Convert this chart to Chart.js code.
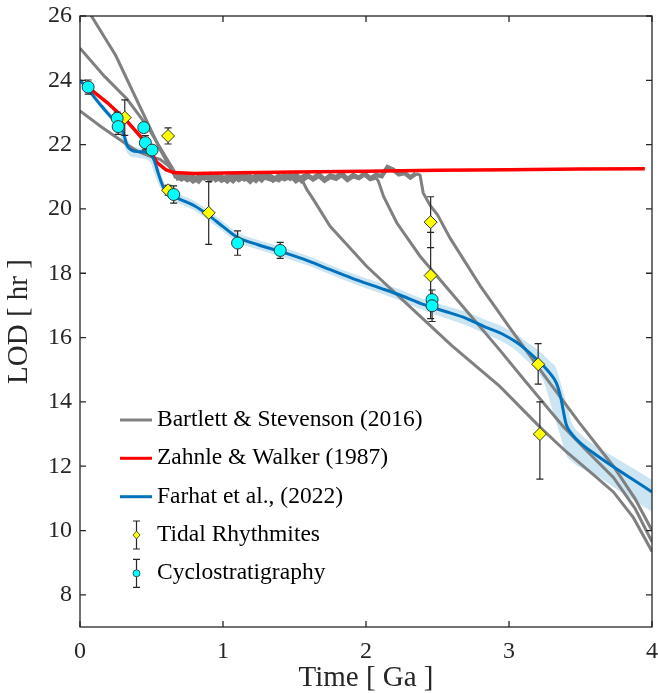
<!DOCTYPE html>
<html>
<head>
<meta charset="utf-8">
<script src="https://cdn.jsdelivr.net/npm/chart.js@4"></script>
<style>
  html, body { margin: 0; padding: 0; background: #fff; }
  #wrap { width: 658px; height: 693px; }
</style>
</head>
<body>
<div id="wrap"><canvas id="lodChart"></canvas></div>
<script>
// tick marks
const xTicks = [0, 1, 2, 3, 4];
const yTicks = [8, 10, 12, 14, 16, 18, 20, 22, 24, 26];

const seriesNames = ['Bartlett & Stevenson (2016)', 'Zahnle & Walker (1987)', 'Farhat et al., (2022)', 'Tidal Rhythmites', 'Cyclostratigraphy'];

// Bartlett & Stevenson: three model runs, each = early decline, noisy plateau, late decline
const plateauX = [0.71, 0.75, 0.79, 0.83, 0.87, 0.91, 0.95, 0.99, 1.03, 1.07, 1.11, 1.15, 1.19, 1.23, 1.27, 1.31, 1.35, 1.39, 1.43, 1.47, 1.51,
  1.55, 1.59, 1.63, 1.67, 1.71, 1.75, 1.79, 1.83, 1.87, 1.91, 1.95, 1.99, 2.03, 2.07, 2.11, 2.15, 2.19, 2.23, 2.27, 2.31, 2.35];

const grayAInitX = [0, 0.08, 0.25, 0.45, 0.56, 0.63, 0.67];
const grayAInitY = [26.7, 26.0, 24.77, 22.89, 21.85, 21.28, 21.02];
const grayAPlateau = [20.92, 21.06, 20.88, 21.02, 20.95, 21.08, 20.9, 21.0, 20.86, 21.05, 20.97, 21.1, 20.92, 21.03, 20.89, 21.07, 20.98, 20.9, 21.06, 20.94, 21.09,
  20.87, 21.01, 20.96, 21.08, 20.91, 21.04, 20.99, 21.11, 20.93, 21.05, 20.97, 21.1, 20.95, 21.06, 21.02, 21.3, 21.22, 21.08, 21.12, 20.98, 21.1];
const grayAExitX = [2.378, 2.4, 2.45, 2.5, 2.587, 2.8, 3.006, 3.25, 3.494, 3.73, 3.88, 4.0];
const grayAExitY = [21.05, 20.5, 20.1, 19.82, 19.1, 17.6, 16.3, 14.8, 13.34, 12.0, 11.0, 10.0];

const grayBInitX = [0, 0.17, 0.33, 0.47, 0.61, 0.645, 0.67];
const grayBInitY = [25.0, 24.13, 23.41, 22.58, 21.54, 21.28, 21.08];
const grayBPlateau = [21.04, 20.9, 21.0, 20.86, 21.07, 20.93, 21.02, 20.88, 20.98, 21.06, 20.9, 21.01, 20.85, 21.04, 20.95, 21.08, 20.89, 21.0,
  20.93, 21.05, 20.87, 20.99, 21.07, 20.92, 21.03, 20.88, 21.0, 20.94, 21.06, 20.9, 21.02, 20.96, 21.08, 20.93, 20.98];
const grayBExitX = [2.087, 2.122, 2.215, 2.378, 2.6, 2.936, 3.1, 3.38, 3.55, 3.73, 3.88, 4.0];
const grayBExitY = [20.86, 20.4, 19.57, 18.53, 17.37, 15.61, 14.72, 13.23, 12.45, 11.65, 10.7, 9.65];

const grayCInitX = [0, 0.15, 0.31, 0.4, 0.5, 0.56, 0.63, 0.67];
const grayCInitY = [23.05, 22.55, 22.06, 21.8, 21.62, 21.54, 21.3, 20.95];
const grayCPlateau = [20.97, 21.05, 20.86, 20.95, 21.03, 20.89, 21.07, 20.94, 21.0, 20.87, 21.05, 20.92, 21.02, 20.88, 21.06, 20.95, 20.9, 21.04, 20.93, 21.0, 20.96];
const grayCExitX = [1.552, 1.587, 1.633, 1.749, 2.006, 2.331, 2.6, 2.936, 3.22, 3.4, 3.6, 3.73, 3.87, 4.0];
const grayCExitY = [20.91, 20.6, 20.29, 19.46, 18.21, 16.86, 15.75, 14.48, 13.2, 12.45, 11.7, 11.2, 10.4, 9.35];

// Zahnle & Walker
const zahnleX = [0.05, 0.19, 0.318, 0.422, 0.539, 0.6, 0.655, 0.8, 1.0, 1.5, 2.0, 2.5, 3.0, 3.5, 3.95];
const zahnleY = [23.8, 23.31, 22.78, 22.26, 21.44, 21.22, 21.13, 21.1, 21.12, 21.15, 21.17, 21.2, 21.22, 21.24, 21.25];

// Farhat et al. median and uncertainty envelope
const farhatX = [0, 0.05, 0.15, 0.26, 0.3, 0.33, 0.36, 0.42, 0.49, 0.52, 0.55, 0.585, 0.63, 0.7, 0.8, 0.9, 1.0, 1.1, 1.25, 1.4, 1.6, 1.75,
  1.9, 2.1, 2.25, 2.4, 2.55, 2.7, 2.85, 2.95, 3.05, 3.12, 3.2, 3.25, 3.29, 3.33, 3.36, 3.4, 3.44, 3.5, 3.6, 3.73, 3.85, 4.0];
const farhatY = [24.0, 23.75, 23.2, 22.63, 22.4, 21.97, 21.83, 21.78, 21.73, 21.5, 21.07, 20.66, 20.45, 20.3, 20.1, 19.8, 19.45, 19.12, 18.88, 18.68, 18.38, 18.11,
  17.85, 17.54, 17.3, 17.03, 16.82, 16.6, 16.3, 16.12, 15.86, 15.62, 15.3, 15.08, 14.87, 14.6, 14.17, 13.3, 13.0, 12.72, 12.38, 11.98, 11.63, 11.2];
const farhatHi = [24.08, 23.84, 23.3, 22.74, 22.52, 22.2, 21.95, 21.9, 21.85, 21.72, 21.35, 20.85, 20.6, 20.45, 20.25, 19.95, 19.6, 19.27, 19.03, 18.83, 18.53, 18.26,
  18.0, 17.7, 17.47, 17.2, 17.0, 16.8, 16.52, 16.35, 16.1, 15.88, 15.62, 15.42, 15.25, 15.05, 14.6, 14.0, 13.35, 13.0, 12.65, 12.3, 11.98, 11.57];
const farhatLo = [23.92, 23.66, 23.1, 22.5, 22.05, 21.75, 21.62, 21.58, 21.45, 21.1, 20.75, 20.5, 20.3, 20.15, 19.95, 19.64, 19.3, 18.97, 18.73, 18.53, 18.23, 17.96,
  17.7, 17.38, 17.13, 16.85, 16.62, 16.38, 16.08, 15.88, 15.6, 15.3, 14.95, 14.55, 13.96, 13.37, 12.93, 12.35, 12.15, 11.95, 11.75, 11.35, 11.0, 10.58];

// data points with error bars
const tidalX = [0.313, 0.616, 0.616, 0.9, 2.452, 2.452, 3.204, 3.216];
const tidalY = [22.84, 22.27, 20.58, 19.88, 19.59, 17.93, 15.17, 13.0];
const tidalErrUp = [0.55, 0.25, 0.15, 0.97, 0.79, 1.34, 0.64, 1.0];
const tidalErrDown = [0.55, 0.25, 0.15, 0.98, 0.79, 1.34, 0.62, 1.4];

const cycloX = [0.057, 0.26, 0.267, 0.446, 0.457, 0.504, 0.655, 1.102, 1.4, 2.462, 2.462];
const cycloY = [23.79, 22.82, 22.56, 22.53, 22.06, 21.83, 20.45, 18.94, 18.71, 17.18, 16.99];
const cycloErr = [0.22, 0.19, 0.24, 0.08, 0.22, 0.12, 0.27, 0.38, 0.25, 0.3, 0.49];

const grayColor = '#808080';
const redColor = '#FF0000';
const blueColor = '#0072BD';
const bandColor = '#CBE5F3';
const axisColor = '#262626';
const fontFamily = '"Liberation Serif", "Times New Roman", serif';

const pts = (xs, ys) => xs.map((x, i) => ({ x: x, y: ys[i] }));
const grayLine = (ix, iy, plateau, ex, ey) =>
  pts(ix, iy).concat(pts(plateauX.slice(0, plateau.length), plateau), pts(ex, ey));

const lineStyle = (color, width, order) => ({
  showLine: true, borderColor: color, backgroundColor: color, borderWidth: width,
  pointRadius: 0, pointHoverRadius: 0, tension: 0, fill: false, order: order
});

// the noisy plateau part of a gray run is drawn a bit heavier
const plateauSegment = plateau => {
  const endX = plateauX[plateau.length - 1];
  return { borderWidth: c => (c.p0.parsed.x >= 0.66 && c.p1.parsed.x <= endX) ? 4.5 : 3 };
};

// error bars are drawn just before their marker dataset
const errorBars = {
  id: 'errorBars',
  beforeDatasetDraw(chart, args) {
    const ds = chart.data.datasets[args.index];
    if (!ds.errUp) return;
    const { ctx, scales: { x, y } } = chart;
    ctx.save();
    ctx.strokeStyle = axisColor;
    ctx.lineWidth = 1.2;
    ctx.beginPath();
    ds.data.forEach((p, i) => {
      const px = x.getPixelForValue(p.x);
      const top = y.getPixelForValue(p.y + ds.errUp[i]);
      const bot = y.getPixelForValue(p.y - ds.errDown[i]);
      ctx.moveTo(px, top); ctx.lineTo(px, bot);
      ctx.moveTo(px - 3.5, top); ctx.lineTo(px + 3.5, top);
      ctx.moveTo(px - 3.5, bot); ctx.lineTo(px + 3.5, bot);
    });
    ctx.stroke();
    ctx.restore();
  }
};

// box around the axes with inward ticks on all four sides
const frame = {
  id: 'frame',
  afterDatasetsDraw(chart) {
    const { ctx, chartArea: a, scales: { x, y } } = chart;
    ctx.save();
    ctx.strokeStyle = axisColor;
    ctx.lineWidth = 1.3;
    ctx.strokeRect(a.left, a.top, a.right - a.left, a.bottom - a.top);
    ctx.beginPath();
    xTicks.forEach(v => {
      const px = x.getPixelForValue(v);
      ctx.moveTo(px, a.bottom); ctx.lineTo(px, a.bottom - 6);
      ctx.moveTo(px, a.top); ctx.lineTo(px, a.top + 6);
    });
    yTicks.forEach(v => {
      const py = y.getPixelForValue(v);
      ctx.moveTo(a.left, py); ctx.lineTo(a.left + 6, py);
      ctx.moveTo(a.right, py); ctx.lineTo(a.right - 6, py);
    });
    ctx.stroke();
    ctx.restore();
  }
};

// axis titles and legend
const annotations = {
  id: 'annotations',
  afterDraw(chart) {
    const { ctx, chartArea: a } = chart;
    ctx.save();
    ctx.fillStyle = axisColor;
    ctx.font = '29px ' + fontFamily;
    ctx.textAlign = 'center';
    ctx.textBaseline = 'middle';
    ctx.fillText('Time [ Ga ]', (a.left + a.right) / 2, 678);
    ctx.save();
    ctx.translate(19, (a.top + a.bottom) / 2);
    ctx.rotate(-Math.PI / 2);
    ctx.fillText('LOD [ hr ]', 0, 0);
    ctx.restore();

    const rowY = [420, 458.3, 496.7, 535, 573.3];
    const lineColors = [grayColor, redColor, blueColor];
    ctx.font = '23.5px ' + fontFamily;
    ctx.textAlign = 'left';
    ctx.fillStyle = '#000';
    seriesNames.forEach((name, i) => {
      const yy = rowY[i];
      if (i < 3) {
        ctx.strokeStyle = lineColors[i];
        ctx.lineWidth = 3;
        ctx.beginPath();
        ctx.moveTo(120, yy); ctx.lineTo(152, yy);
        ctx.stroke();
      } else {
        ctx.strokeStyle = axisColor;
        ctx.lineWidth = 1.2;
        ctx.beginPath();
        ctx.moveTo(136.5, yy - 14); ctx.lineTo(136.5, yy + 14);
        ctx.moveTo(133, yy - 14); ctx.lineTo(140, yy - 14);
        ctx.moveTo(133, yy + 14); ctx.lineTo(140, yy + 14);
        ctx.stroke();
        ctx.fillStyle = i === 3 ? '#FFFF00' : '#00FFFF';
        ctx.strokeStyle = '#333';
        ctx.lineWidth = 0.8;
        ctx.beginPath();
        if (i === 3) {
          ctx.moveTo(136.5, yy - 4); ctx.lineTo(140, yy); ctx.lineTo(136.5, yy + 4); ctx.lineTo(133, yy);
          ctx.closePath();
        } else {
          ctx.arc(136.5, yy, 3.5, 0, Math.PI * 2);
        }
        ctx.fill();
        ctx.stroke();
        ctx.fillStyle = '#000';
      }
      ctx.fillText(name, 157, yy);
    });
    ctx.restore();
  }
};

const noScalePadding = s => { s.paddingLeft = 0; s.paddingRight = 0; s.paddingTop = 0; s.paddingBottom = 0; };

const ctx = document.getElementById('lodChart').getContext('2d');
const lodChart = new Chart(ctx, {
  type: 'scatter',
  data: {
    datasets: [
      Object.assign(lineStyle(bandColor, 0, 9), { label: 'band low', data: pts(farhatX, farhatLo), cubicInterpolationMode: 'monotone' }),
      Object.assign(lineStyle(bandColor, 0, 8), { label: 'band high', data: pts(farhatX, farhatHi), cubicInterpolationMode: 'monotone',
        fill: { target: 0 }, backgroundColor: bandColor }),
      Object.assign(lineStyle(grayColor, 3, 7), { label: seriesNames[0], segment: plateauSegment(grayCPlateau),
        data: grayLine(grayCInitX, grayCInitY, grayCPlateau, grayCExitX, grayCExitY) }),
      Object.assign(lineStyle(grayColor, 3, 6), { label: seriesNames[0], segment: plateauSegment(grayBPlateau),
        data: grayLine(grayBInitX, grayBInitY, grayBPlateau, grayBExitX, grayBExitY) }),
      Object.assign(lineStyle(grayColor, 3, 5), { label: seriesNames[0], segment: plateauSegment(grayAPlateau),
        data: grayLine(grayAInitX, grayAInitY, grayAPlateau, grayAExitX, grayAExitY) }),
      Object.assign(lineStyle(redColor, 3.5, 4), { label: seriesNames[1], data: pts(zahnleX, zahnleY) }),
      Object.assign(lineStyle(blueColor, 3, 3), { label: seriesNames[2], data: pts(farhatX, farhatY), cubicInterpolationMode: 'monotone' }),
      {
        label: seriesNames[3], data: pts(tidalX, tidalY), errUp: tidalErrUp, errDown: tidalErrDown,
        pointStyle: 'rectRot', pointRadius: 6.5, pointHoverRadius: 6.5,
        backgroundColor: '#FFFF00', borderColor: '#333', borderWidth: 1, order: 2
      },
      {
        label: seriesNames[4], data: pts(cycloX, cycloY), errUp: cycloErr, errDown: cycloErr,
        pointStyle: 'circle', pointRadius: 6, pointHoverRadius: 6,
        backgroundColor: '#00FFFF', borderColor: '#333', borderWidth: 1, order: 1
      }
    ]
  },
  options: {
    responsive: true,
    maintainAspectRatio: false,
    animation: false,
    layout: { autoPadding: false, padding: { top: 16, right: 6, left: 0, bottom: 0 } },
    plugins: { legend: { display: false }, tooltip: { enabled: false } },
    scales: {
      x: {
        type: 'linear', min: 0, max: 4,
        afterBuildTicks: s => { s.ticks = xTicks.map(v => ({ value: v })); },
        afterFit: s => { s.height = 66; noScalePadding(s); },
        grid: { display: false, drawTicks: false },
        border: { display: false },
        ticks: { color: axisColor, padding: 10, font: { family: fontFamily, size: 24 } }
      },
      y: {
        type: 'linear', min: 7, max: 26,
        afterBuildTicks: s => { s.ticks = yTicks.map(v => ({ value: v })); },
        afterFit: s => { s.width = 80; noScalePadding(s); },
        grid: { display: false, drawTicks: false },
        border: { display: false },
        ticks: { color: axisColor, padding: 8, font: { family: fontFamily, size: 24 } }
      }
    }
  },
  plugins: [errorBars, frame, annotations]
});
</script>
</body>
</html>
